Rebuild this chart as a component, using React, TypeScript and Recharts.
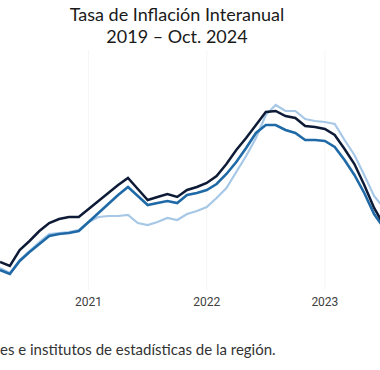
import { LineChart, Line, XAxis, YAxis, CartesianGrid } from 'recharts';

// mes 0 = enero 2021
const months = [
  -9, -8, -7, -6, -5, -4, -3, -2, -1, 0, 1, 2, 3, 4, 5, 6, 7, 8, 9, 10, 11,
  12, 13, 14, 15, 16, 17, 18, 19, 20, 21, 22, 23, 24, 25, 26, 27, 28, 29, 30,
];

const serieOscura = [
  1.4, 1.2, 2.0, 2.45, 2.95, 3.35, 3.55, 3.65, 3.65, 4.05, 4.45, 4.85, 5.25,
  5.6, 5.05, 4.5, 4.65, 4.8, 4.65, 5.0, 5.15, 5.35, 5.7, 6.3, 7.0, 7.6, 8.25,
  8.9, 8.95, 8.7, 8.6, 8.2, 8.15, 8.05, 7.75, 7.05, 6.3, 5.25, 4.1, 3.25,
];

const serieMedia = [
  1.0, 0.8, 1.45, 1.9, 2.3, 2.7, 2.8, 2.85, 2.95, 3.4, 3.85, 4.3, 4.75, 5.15,
  4.7, 4.25, 4.35, 4.45, 4.35, 4.75, 4.85, 5.0, 5.3, 5.8, 6.4, 7.1, 7.85, 8.25,
  8.25, 8.0, 7.85, 7.5, 7.5, 7.45, 7.15, 6.5, 5.75, 4.85, 3.8, 3.1,
];

const serieClara = [
  1.1, 0.85, 1.5, 1.95, 2.4, 2.8, 2.85, 2.9, 3.0, 3.4, 3.65, 3.7, 3.7, 3.75,
  3.35, 3.25, 3.4, 3.6, 3.5, 3.8, 3.95, 4.15, 4.6, 5.1, 5.9, 6.7, 7.6, 8.75,
  9.25, 8.95, 8.95, 8.55, 8.45, 8.4, 8.3, 7.5, 6.75, 5.75, 4.7, 4.1,
];

const yearTicks = [0, 12, 24];
const yearLabels = ['2021', '2022', '2023'];

const data = months.map((m, i) => ({
  m,
  oscura: serieOscura[i],
  media: serieMedia[i],
  clara: serieClara[i],
}));

export default function App() {
  return (
    <div
      style={{
        position: 'absolute',
        left: 0,
        top: 0,
        width: 380,
        height: 370,
        overflow: 'hidden',
        background: '#fff',
      }}
    >
      <div
        style={{
          position: 'absolute',
          left: 0,
          top: 3,
          width: 354,
          textAlign: 'center',
          fontFamily: 'Lato, sans-serif',
          fontSize: 18,
          lineHeight: '22px',
          color: '#1a1a1a',
        }}
      >
        Tasa de Inflación Interanual
        <br />
        2019 – Oct. 2024
      </div>
      <LineChart
        width={380}
        height={370}
        data={data}
        margin={{ top: 50, right: 0, bottom: 0, left: 0 }}
      >
        <CartesianGrid horizontal={false} stroke="#f6f6f6" verticalValues={yearTicks} />
        <XAxis
          dataKey="m"
          type="number"
          domain={[-9, 29.6]}
          allowDataOverflow
          ticks={yearTicks}
          tickFormatter={(v: number) => yearLabels[yearTicks.indexOf(v)]}
          axisLine={false}
          tickLine={false}
          tickSize={0}
          tickMargin={7}
          height={80}
          tick={{ fontSize: 12, fill: '#404040', fontFamily: 'Roboto, sans-serif' }}
        />
        <YAxis hide domain={[0, 12]} />
        <Line
          type="linear"
          dataKey="clara"
          stroke="#a6c8e6"
          strokeWidth={2.2}
          dot={false}
          isAnimationActive={false}
        />
        <Line
          type="linear"
          dataKey="media"
          stroke="#1f6aa6"
          strokeWidth={2.6}
          dot={false}
          isAnimationActive={false}
        />
        <Line
          type="linear"
          dataKey="oscura"
          stroke="#0e1b36"
          strokeWidth={2.5}
          dot={false}
          isAnimationActive={false}
        />
      </LineChart>
      <div
        style={{
          position: 'absolute',
          left: 0,
          top: 340,
          fontFamily: 'Lato, sans-serif',
          fontSize: 15,
          color: '#333',
          whiteSpace: 'nowrap',
        }}
      >
        es e institutos de estadísticas de la región.
      </div>
    </div>
  );
}
